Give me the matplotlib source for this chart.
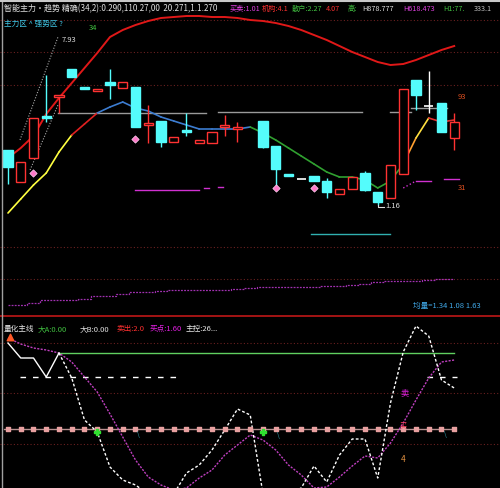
import matplotlib
matplotlib.use('Agg')
import matplotlib.pyplot as plt
from matplotlib.lines import Line2D
import numpy as np

plt.rcParams['font.family'] = ['Noto Sans CJK SC', 'DejaVu Sans']

nan = np.nan
# ---------------- data ----------------
idx = np.arange(36)
opens  = [16.6,13.4,15.8,20.0,21.9,24.7,22.9,22.5,23.4,22.8,22.9,19.1,19.5,17.4,18.6,17.3,17.3,18.9,18.7,nan,
          19.5,17.0,14.2,13.7,14.0,13.5,12.2,12.7,14.3,12.4,11.8,14.2,23.6,21.0,21.3,17.8]
closes = [14.9,15.4,19.8,19.8,22.1,23.9,22.7,22.7,23.1,23.4,18.9,19.3,17.4,17.9,18.4,17.6,18.4,19.1,18.9,nan,
          16.9,14.7,14.0,13.7,13.5,12.4,12.7,13.9,12.6,11.4,15.1,22.7,22.1,21.0,18.4,19.4]
highs  = [16.6,15.4,19.8,24.1,22.1,24.7,22.9,22.7,24.7,23.4,22.9,21.1,19.5,17.9,20.3,17.6,18.4,20.1,19.4,nan,
          19.5,17.0,14.2,13.7,14.0,13.8,12.7,13.9,14.5,12.4,15.1,22.7,23.6,24.5,21.3,20.3]
lows   = [13.2,13.4,15.8,19.4,20.3,23.9,22.7,22.5,21.7,22.8,18.9,17.3,16.9,17.4,18.0,17.3,17.3,18.0,17.4,nan,
          16.8,12.6,14.0,13.7,13.5,11.8,12.2,12.7,12.5,11.1,11.8,14.2,20.6,20.3,18.4,16.6]

ma_long = [15.8,16.8,18.0,20.2,21.8,23.3,24.8,26.3,27.9,28.6,29.1,29.5,29.8,29.9,30.0,30.0,29.9,29.9,29.8,29.6,
           29.5,29.3,29.0,28.6,28.1,27.6,27.0,26.4,25.9,25.4,25.1,25.2,25.6,26.1,26.6,27.0]
ma_mid = [10.3,11.7,13.1,14.3,16.4,18.1,19.2,20.3,20.9,21.4,20.8,20.5,19.9,19.5,19.1,18.7,18.7,18.7,18.7,18.9,
          18.3,17.6,16.8,16.0,15.2,14.4,13.9,13.9,13.6,12.8,13.5,15.2,17.8,19.8,19.4,19.6]
vol_trend = [1.1,1.1,1.3,1.6,1.6,1.6,1.7,2.0,2.0,2.2,2.4,2.4,2.5,2.6,2.6,2.6,2.6,2.6,2.7,2.8,
             2.9,2.9,2.9,2.9,2.9,3.0,3.0,3.1,3.2,3.4,3.5,3.5,3.5,3.6,3.7,3.7]
gems_idx = [2, 10, 21, 24]
gems_val = [14.3, 17.7, 12.8, 12.8]
gray_levels = [(3.9, 15.5, 20.3), (16.5, 27.8, 20.4), (30.0, 31.6, 20.4), (31.6, 34.4, 20.8)]
magenta_levels = [(10.0, 15.0, 12.6), (15.4, 15.8, 12.8), (16.5, 16.9, 12.9), (32.0, 33.2, 13.5), (34.2, 35.4, 13.7)]
cyan_level = (23.8, 30.0, 8.2)
top_grid = [29.6, 26.4, 23.1, 6.9, 3.7]

osc_white = [101,86,86,67,91,66,24,12,-23,-36,-41,-50,-55,-50,-29,-21,-6,14,35,29,
             -50,-55,-50,-44,-22,-38,-11,5,5,-34,41,92,118,108,64,56]
osc_mag = [106,100,96,94,91,82,67,52,30,7,-16,-33,-41,-46,-44,-34,-26,-11,-1,9,
           4,-6,-21,-31,-44,-43,-33,-22,-12,-14,1,21,44,66,82,84]
osc_green_level = 91
osc_pink_level = 15
osc_grid = [101, 51, 0]

# ---------------- figure ----------------
W, H = 500, 488
fig = plt.figure(figsize=(5, 4.88), dpi=100, facecolor='black')
split = 316
ax1 = fig.add_axes([0, 1 - split / H, 1, split / H])
ax2 = fig.add_axes([0, 0, 1, 1 - split / H])
for ax in (ax1, ax2):
    ax.set_facecolor('black')
    ax.set_axis_off()
    ax.set_xlim(-0.627, 38.59)
ax1.set_ylim(0, 31.6)
ax2.set_ylim(-44, 128)

RED = '#FF3232'
CYAN = '#54FCFC'
dotgrid = dict(color='#6A2020', lw=0.8, ls=(0, (1, 2)))

for g in top_grid:
    ax1.axhline(g, **dotgrid)

# volume-ish trend at bottom of top panel
ax1.plot(idx, vol_trend, color='#A030B0', lw=0.9, ls=(0, (1.5, 1)), drawstyle='steps-mid')

# gray levels
for x0, x1, v in gray_levels:
    ax1.plot([x0, x1], [v, v], color='#9A9A9A', lw=1.0)
for x0, x1, v in magenta_levels:
    ax1.plot([x0, x1], [v, v], color='#D030D0', lw=1.0)
ax1.plot([31.0, 32.0], [12.8, 13.5], color='#D030D0', lw=1.0, ls=':')
ax1.plot([cyan_level[0], cyan_level[1]], [cyan_level[2]] * 2, color='#30B0B0', lw=1.0)

# gray dotted diagonals
ax1.plot([0.94, 3.92], [17.6, 27.9], color='#AAAAAA', lw=0.8, ls=(0, (1, 1.5)))
ax1.plot([1.73, 3.92], [14.6, 21.1], color='#AAAAAA', lw=0.8, ls=(0, (1, 1.5)))

# long MA
ax1.plot(idx, ma_long, color='#E01818', lw=1.4)
# multi-coloured mid MA
seg_colors = (['#FFFF40'] * 5 + ['#E02020'] * 2 + ['#3C7CD0'] * 12 + ['#30A030'] * 12 +
              ['#FFA030', '#FFE040', '#E03030', '#E03030'])
for i in range(len(ma_mid) - 1):
    ax1.plot([idx[i], idx[i + 1]], [ma_mid[i], ma_mid[i + 1]], color=seg_colors[i], lw=1.2,
             solid_capstyle='round')

# candles
bw = 0.72
for i in idx:
    o, c, h, l = opens[i], closes[i], highs[i], lows[i]
    if np.isnan(o):
        continue
    top, bot = max(o, c), min(o, c)
    if abs(c - o) < 0.05:
        col = '#FFFFFF'
        ax1.vlines(i, l, h, color=col, lw=1)
        ax1.hlines(o, i - bw / 2, i + bw / 2, color=col, lw=1.2)
        continue
    col = RED if c > o else CYAN
    ax1.vlines(i, top, h, color=col, lw=1)
    ax1.vlines(i, l, bot, color=col, lw=1)
    if c > o:
        ax1.bar(i, top - bot, bottom=bot, width=bw, facecolor='black', edgecolor=col, lw=1, zorder=3)
    else:
        ax1.bar(i, top - bot, bottom=bot, width=bw, facecolor=col, edgecolor=col, lw=1, zorder=3)

ax1.scatter(gems_idx, gems_val, marker='D', s=14, color='#FF78C8', edgecolor='#FFD0F0', lw=0.5, zorder=4)

ax1.text(4.2, 27.6, '7.93', color='#DDDDDD', fontsize=5.5, va='center')
ax1.text(6.3, 28.8, '34', color='#40C040', fontsize=5.5, va='center')
ax1.text(29.6, 11.0, '1.16', color='#DDDDDD', fontsize=5.5, va='center')
ax1.plot([29.0, 29.0, 29.5], [11.1, 10.9, 10.9], color='#DDDDDD', lw=0.8)
ax1.text(35.3, 21.9, '93', color='#E05020', fontsize=5.5, va='center')
ax1.text(35.3, 12.8, '31', color='#E05020', fontsize=5.5, va='center')

# ---------------- lower panel ----------------
for g in osc_grid:
    ax2.axhline(g, **dotgrid)
ax2.plot([3.9, 35], [osc_green_level] * 2, color='#60D060', lw=1.0)
ax2.plot([-0.3, 35], [osc_pink_level] * 2, color='#B89090', lw=1.0)
ax2.scatter(idx, [osc_pink_level] * len(idx), marker='s', s=9, color='#E8A0A0', zorder=3)
ax2.plot([0.94, 13.25], [67, 67], color='white', lw=1.0, ls=(0, (4, 5)))
ax2.plot([32.9, 35.2], [67, 67], color='white', lw=1.0, ls=(0, (4, 5)))
ax2.plot(idx, osc_mag, color='#C040C0', lw=1.0, ls=(0, (1.5, 1)))
ax2.plot(idx[:5], osc_white[:5], color='white', lw=1.0)
ax2.plot(idx[4:], osc_white[4:], color='white', lw=1.0, ls=(0, (2, 1.5)))

ax2.scatter([0.16], [107], marker='^', s=22, color='#FF5A28', zorder=4)
ax2.scatter([7, 20], [12, 12], marker='P', s=18, color='#30E030', zorder=4)
ax2.text(31.1, 51, '卖', color='#E020E0', fontsize=6, ha='center', va='center')
ax2.text(31.0, 19, '买', color='#FF4060', fontsize=5, ha='center', va='center')
ax2.text(31.0, -15, '4', color='#E09040', fontsize=6, ha='center', va='center')
for xi, yi in [(10.2, 9), (21.2, 8), (34.3, 9)]:
    ax2.text(xi, yi, '\\', color='#30A0B0', fontsize=5, ha='center', va='center')

# ---------------- frame ----------------
fig.add_artist(Line2D([0, 1], [1 - split / H] * 2, color='#C01818', lw=1.2))
fig.add_artist(Line2D([2 / W, 2 / W], [0, 1], color='#A0A0A0', lw=1.0))
fig.add_artist(Line2D([0, 1], [1 - 1 / H] * 2, color='#C8C8C8', lw=1.5))

def ftext(x, y, s, color, size=5.5):
    fig.text(x / W, 1 - y / H, s, color=color, fontsize=size, va='center', ha='left')

ftext(4, 9, '智能主力·趋势 精确(34,2):0.290,110.27,00  20.271,1.1.270', '#E0E0E0', 5.8)
ftext(230, 9, '买卖:1.01', '#E040E0', 5.2)
ftext(262, 9, '机构:4.1', '#FF3030', 5.2)
ftext(292, 9, '散户:2.27', '#40C040', 5.2)
ftext(326, 9, '4.07', '#FF3030', 5.2)
ftext(348, 9, '高:', '#40C040', 5.2)
ftext(362, 9, 'H878.777', '#E0E0E0', 5.2)
ftext(403, 9, 'H618.473', '#E040E0', 5.2)
ftext(443, 9, 'H1:77.', '#40C040', 5.2)
ftext(474, 9, '333.1', '#C0C0C0', 5.2)
ftext(4, 24, '主力区 ^ 强势区 ?', '#40C8E8')
ftext(413, 306, '均量=1.34 1.08 1.63', '#40A8E8')

ftext(4, 329, '量化主线', '#E8E8E8')
ftext(38, 329, '大A:0.00', '#40C040')
ftext(80, 329, '大B:0.00', '#E0E0E0')
ftext(117, 329, '卖出:2.0', '#FF3030')
ftext(150, 329, '买点:1.60', '#E020E0')
ftext(186, 329, '主控:26...', '#E8E8E8')

fig.savefig('out.png', dpi=100, facecolor='black')
